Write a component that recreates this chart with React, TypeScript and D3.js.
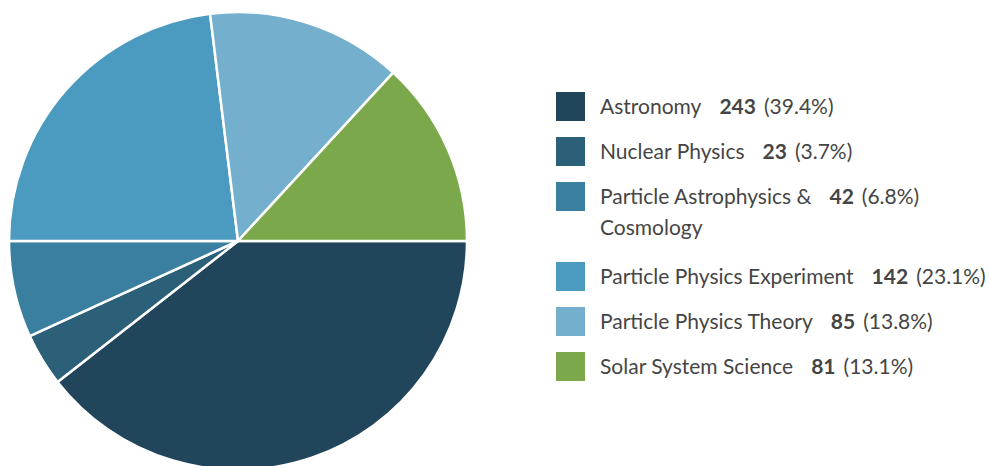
import * as d3 from 'd3';

const categories = [
  'Astronomy',
  'Nuclear Physics',
  'Particle Astrophysics & Cosmology',
  'Particle Physics Experiment',
  'Particle Physics Theory',
  'Solar System Science',
];
const values = [243, 23, 42, 142, 85, 81];
const colors = ['#21455a', '#2c5f78', '#3a7fa0', '#4b9bc1', '#74b0cd', '#7aa84a'];

const WIDTH = 989;
const HEIGHT = 466;
const CX = 238;
const CY = 241;
const R = 229;

function wrapName(name: string, maxChars = 30): string[] {
  const words = name.split(' ');
  const lines: string[] = [];
  let cur = '';
  for (const w of words) {
    const next = cur ? `${cur} ${w}` : w;
    if (next.length > maxChars && cur) {
      lines.push(cur);
      cur = w;
    } else {
      cur = next;
    }
  }
  if (cur) lines.push(cur);
  return lines;
}

export default function App() {
  const total = d3.sum(values);
  const rows = categories.map((c, i) => ({ name: c, value: values[i], color: colors[i] }));

  const pie = d3.pie<typeof rows[number]>()
    .sort(null)
    .value((d) => d.value)
    .startAngle(Math.PI / 2)
    .endAngle(Math.PI / 2 + 2 * Math.PI);
  const arc = d3.arc<d3.PieArcDatum<typeof rows[number]>>().innerRadius(0).outerRadius(R);
  const arcs = pie(rows);

  // legend layout
  const legendX = 556;
  const textX = 600;
  let y = 92;
  const legendItems = rows.map((r) => {
    const lines = wrapName(r.name);
    const item = { ...r, lines, top: y };
    y += 45 + (lines.length - 1) * 35;
    return item;
  });

  return (
    <div style={{ position: 'absolute', left: 0, top: 0 }}>
      <svg width={WIDTH} height={HEIGHT} style={{ display: 'block', fontFamily: 'Lato, sans-serif' }}>
        <g transform={`translate(${CX},${CY})`}>
          {arcs.map((a, i) => (
            <path key={i} d={arc(a) ?? ''} fill={a.data.color} stroke="#fff" strokeWidth={2.5} strokeLinejoin="round" />
          ))}
        </g>
        <g>
          {legendItems.map((it, i) => {
            const pct = ((it.value / total) * 100).toFixed(1);
            const baseY = it.top + 22;
            return (
              <g key={i}>
                <rect x={legendX} y={it.top} width={29} height={29} fill={it.color} />
                {it.lines.map((line, j) => (
                  <text key={j} x={textX} y={baseY + j * 31} fontSize={21} fill="#454545">
                    {line}
                    {j === 0 && (
                      <>
                        <tspan dx={18} fontWeight="bold">{it.value}</tspan>
                        <tspan dx={8}>({pct}%)</tspan>
                      </>
                    )}
                  </text>
                ))}
              </g>
            );
          })}
        </g>
      </svg>
    </div>
  );
}
